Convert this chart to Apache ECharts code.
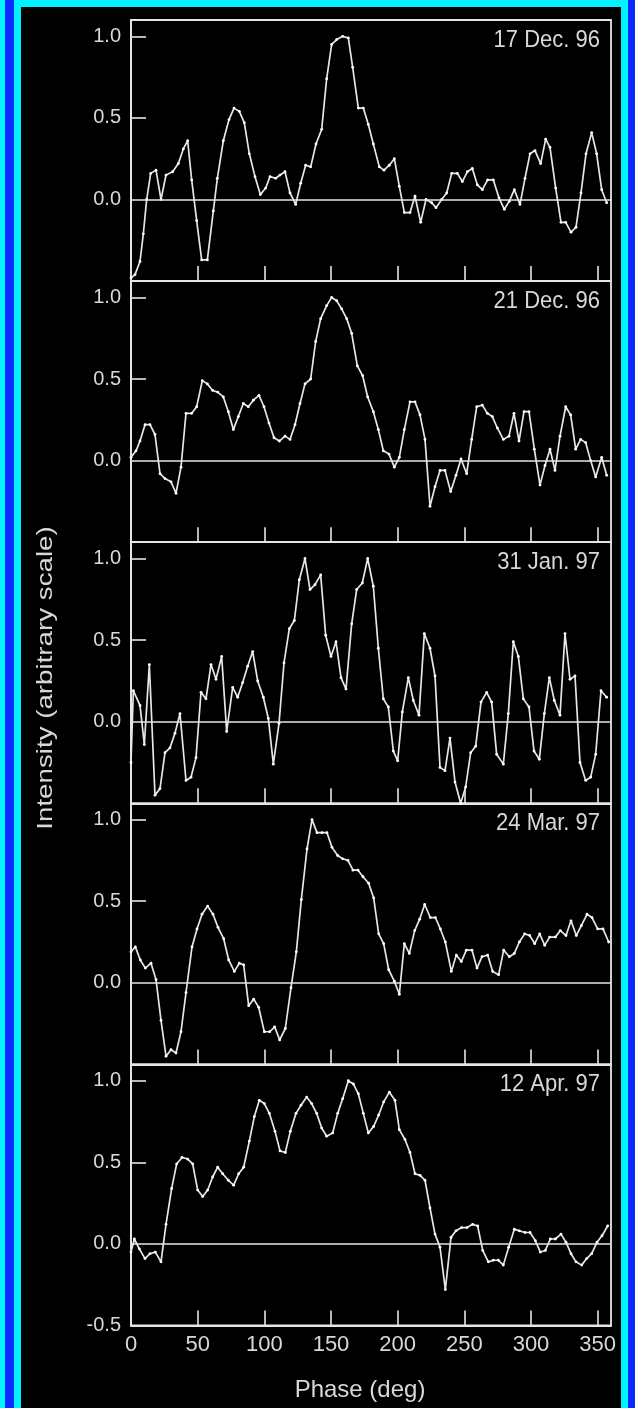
<!DOCTYPE html>
<html><head><meta charset="utf-8">
<script src="https://cdn.jsdelivr.net/npm/echarts@6/dist/echarts.min.js"></script>
<style>
html,body{margin:0;padding:0;width:635px;height:1408px;overflow:hidden;background:#0b2bff;}
#strip{position:absolute;left:0;top:0;width:5px;height:1408px;background:#00f4ff;}
#frame{position:absolute;left:14px;top:0;width:600px;height:1420px;border:7px solid #00f4ff;border-bottom:none;background:#000;}
#chart{position:absolute;left:0;top:0;width:635px;height:1408px;}
</style></head>
<body>
<div id="strip"></div><div id="frame"></div><div id="chart"></div>
<script>
// ---- data ----
const panelDates = ['17 Dec. 96', '21 Dec. 96', '31 Jan. 97', '24 Mar. 97', '12 Apr. 97'];
const xTickLabels = [0, 50, 100, 150, 200, 250, 300, 350];
const yTickLabels = [-0.5, 0.0, 0.5, 1.0];

const phase17Dec96 = [0,3,6.75,9.25,11.75,14.75,18.75,22.5,26.25,31.25,35.5,39.25,42.5,45.5,49.25,53,57.25,61.75,64.75,69.25,73.5,77.25,81.25,85,88.75,93,97,101,104.25,108.5,111.75,115.5,119.25,123.5,127.25,131,134.75,138.75,143,146.75,150.5,154.25,158.75,163,166.25,170.5,174.25,178,181.75,186.25,189.75,193.75,197.5,201.25,205,209.25,213,217.25,221.25,225.5,228.75,233,236.75,240.5,244.75,248.5,252.25,256,259.75,263.5,267.5,271.75,276,280,283.75,287.5,291.75,295.5,299.25,303,307.25,311,314.25,318.5,322.5,326,330,333.75,337.5,341.25,345.5,349.25,353,356.75];
const int17Dec96 = [-0.48,-0.46,-0.38,-0.21,0.0,0.16,0.18,0.0,0.15,0.17,0.22,0.31,0.36,0.12,-0.13,-0.37,-0.37,-0.07,0.13,0.36,0.49,0.56,0.54,0.47,0.28,0.14,0.03,0.07,0.14,0.13,0.15,0.17,0.04,-0.03,0.10,0.21,0.20,0.34,0.43,0.74,0.95,0.98,1.0,0.99,0.81,0.56,0.56,0.46,0.34,0.20,0.18,0.21,0.25,0.08,-0.08,-0.08,0.02,-0.14,0.0,-0.02,-0.05,0.0,0.04,0.16,0.16,0.11,0.17,0.19,0.09,0.06,0.12,0.12,0.01,-0.06,-0.01,0.06,-0.03,0.13,0.28,0.30,0.22,0.37,0.32,0.07,-0.14,-0.14,-0.20,-0.17,0.04,0.28,0.41,0.28,0.06,-0.02];

const phase21Dec96 = [0,3.75,6.75,10.5,14.25,18,21.75,25.5,30,33.75,37.5,41.25,45.5,49.25,53.5,57.25,61.25,65,69.25,73,76.75,80.5,84.25,88,91.75,96,99.75,103.5,107.25,111.25,115.5,119.25,123,126.75,130.5,134.75,138.5,142.25,146.75,150.5,154.25,158,161.75,165.5,169.75,173.75,177.5,181.75,185.5,189.25,193.5,197.5,201.25,205,209.25,213,216.75,220.5,224.25,228,231.75,235.5,239.75,243.75,247.5,251.75,255.5,259.25,263.5,267.25,271,274.75,279.25,283.5,287.25,291,294.75,298.5,302.5,306.75,310.5,314.25,318,321.75,326,329.75,333.5,337.25,341,344.75,348.5,353,356.75];
const int21Dec96 = [0.02,0.06,0.12,0.22,0.22,0.16,-0.08,-0.11,-0.13,-0.20,-0.04,0.29,0.29,0.33,0.49,0.47,0.43,0.42,0.39,0.30,0.19,0.27,0.35,0.33,0.37,0.40,0.33,0.23,0.14,0.12,0.15,0.13,0.22,0.35,0.47,0.50,0.73,0.87,0.95,1.0,0.98,0.93,0.87,0.78,0.58,0.52,0.39,0.30,0.19,0.06,0.04,-0.04,0.02,0.19,0.36,0.36,0.28,0.13,-0.28,-0.16,-0.06,-0.06,-0.19,-0.09,0.01,-0.08,0.13,0.33,0.34,0.29,0.27,0.20,0.13,0.15,0.29,0.12,0.30,0.30,0.07,-0.15,-0.03,0.07,-0.06,0.15,0.33,0.28,0.07,0.13,0.11,0.0,-0.10,0.02,-0.09];

const phase31Jan97 = [0,1.75,6.75,10,13.75,18,21.75,25.5,29.25,33,36.75,41.25,45,48.75,52.5,56.25,60,63.75,68,71.75,76.25,80,83.75,87.5,91.25,95,99.25,103,106.75,111,114.75,118.75,122.5,126.25,130.5,134.25,138,142.25,146,150,153.75,157.5,161.25,165.5,169.25,173.5,177.5,181.75,185.5,189.25,193,196.75,200,203.5,208,211.75,216,220,224.25,228,231.75,235.5,239.25,243,247.25,251,254.75,258.5,262.5,266.75,270.5,274.25,279.25,283,286.75,290.5,294.25,298.5,302.25,306.25,310,313.75,317.5,321.75,325.5,329.25,333,336.75,341,344.75,348.5,352.5,356.75];
const int31Jan97 = [-0.25,0.19,0.10,-0.14,0.35,-0.45,-0.41,-0.19,-0.16,-0.07,0.05,-0.36,-0.34,-0.22,0.18,0.14,0.35,0.26,0.40,-0.06,0.21,0.15,0.24,0.34,0.43,0.25,0.15,0.02,-0.26,-0.01,0.36,0.57,0.62,0.87,1.0,0.81,0.84,0.90,0.53,0.40,0.49,0.27,0.20,0.60,0.81,0.85,1.0,0.83,0.45,0.14,0.09,-0.18,-0.24,0.06,0.27,0.13,0.04,0.54,0.45,0.28,-0.28,-0.30,-0.10,-0.37,-0.50,-0.40,-0.19,-0.15,0.12,0.18,0.12,-0.20,-0.26,0.05,0.49,0.40,0.14,0.09,-0.18,-0.23,0.05,0.27,0.13,0.04,0.54,0.26,0.28,-0.25,-0.36,-0.34,-0.20,0.19,0.15];

const phase24Mar97 = [0,3.25,7,10.75,15,18.75,22.5,26.25,30,33.75,37.5,41.25,45.75,49.5,53.25,57.5,61.5,65.25,69.5,73.25,77.5,81.25,84.5,88.25,92,95.75,100,104,107.75,111.5,115.75,120,124,127.75,132,135.75,139.5,143.25,147,150.75,155,158.75,162.75,166.5,170.25,174,178.25,182,185.75,189.5,193.25,197.5,201.25,205,208.75,212.75,216.5,220.25,224.5,228.25,232,235.75,240.25,244,247.75,251.5,255.75,259.5,263.25,267.5,271.25,275.75,279.5,283.75,287.5,291.25,295.25,299,302.75,306.5,310.25,314,318.25,322,326.25,330,334,337.75,342,345.75,350,354,358.25];
const int24Mar97 = [0.19,0.22,0.14,0.09,0.12,0.02,-0.23,-0.45,-0.41,-0.43,-0.30,-0.06,0.22,0.33,0.42,0.47,0.42,0.34,0.27,0.14,0.07,0.12,0.11,-0.14,-0.10,-0.15,-0.30,-0.30,-0.27,-0.35,-0.28,-0.03,0.19,0.51,0.82,1.0,0.92,0.92,0.92,0.83,0.78,0.76,0.75,0.69,0.69,0.65,0.61,0.52,0.30,0.24,0.08,0.01,-0.07,0.24,0.18,0.32,0.39,0.48,0.40,0.40,0.33,0.25,0.07,0.17,0.13,0.20,0.20,0.09,0.16,0.17,0.07,0.05,0.20,0.16,0.18,0.25,0.30,0.29,0.24,0.30,0.23,0.28,0.28,0.32,0.29,0.38,0.29,0.35,0.42,0.40,0.33,0.33,0.25];

const phase12Apr97 = [0,2.5,6.25,10.5,14.25,18.25,22.5,26.25,30.5,34.25,38.25,42.5,46.25,50,53.75,57.5,61.25,65,68.75,73,77,80.75,84.5,88.75,92.5,96.25,100,103.75,108,111.75,115.75,119.5,123.75,127.5,131.75,135.5,139.25,143,146.75,151.25,155,158.75,163,166.75,170.5,174.25,178,182,185.75,189.5,193.75,198,201.25,205.5,209.25,213,216.75,220.5,224.25,228,231.75,235.75,240,243.75,248,252,256.25,260,263.75,268,271.75,275.5,279.25,283.25,287.5,291.25,295.5,299.25,303.25,307,310.75,314.5,318.25,322.5,326.25,330,333.75,338,341.75,345.5,349.5,353.25,357.5];
const int12Apr97 = [-0.05,0.03,-0.03,-0.09,-0.06,-0.05,-0.11,0.12,0.34,0.49,0.53,0.52,0.49,0.33,0.29,0.33,0.41,0.47,0.43,0.39,0.36,0.43,0.47,0.63,0.78,0.88,0.86,0.80,0.69,0.57,0.56,0.69,0.80,0.85,0.90,0.86,0.80,0.71,0.66,0.68,0.80,0.89,1.0,0.98,0.92,0.80,0.68,0.72,0.79,0.87,0.93,0.88,0.70,0.64,0.56,0.43,0.42,0.39,0.22,0.06,-0.02,-0.28,0.04,0.08,0.10,0.10,0.12,0.11,-0.04,-0.11,-0.10,-0.10,-0.13,-0.02,0.09,0.08,0.07,0.07,0.02,-0.05,-0.04,0.03,0.03,0.06,0.01,-0.06,-0.11,-0.13,-0.09,-0.06,0.01,0.05,0.11];

const phases = [phase17Dec96, phase21Dec96, phase31Jan97, phase24Mar97, phase12Apr97];
const intensities = [int17Dec96, int21Dec96, int31Jan97, int24Mar97, int12Apr97];

// ---- layout / style ----
const FONT = '"Liberation Sans", Arial, Helvetica, sans-serif';
const INK = '#e6e6e6';
const TEXT = '#d8d8d8';
const GRID_LEFT = 131, GRID_RIGHT = 24, GRID_TOP0 = 20, GRID_H = 261.1;

const chart = echarts.init(document.getElementById('chart'), null, {renderer: 'canvas'});
const grids = [], xAxes = [], yAxes = [], series = [], graphics = [];
const n = panelDates.length;
for (let k = 0; k < n; k++) {
  const top = GRID_TOP0 + k * GRID_H;
  const last = k === n - 1;
  grids.push({left: GRID_LEFT, right: GRID_RIGHT, top: top, height: GRID_H,
    show: true, borderColor: INK, borderWidth: 1.8, backgroundColor: 'transparent',
    containLabel: false, outerBoundsMode: 'none'});
  xAxes.push({gridIndex: k, type: 'value', min: 0, max: 360, interval: 50,
    axisLine: {show: true, onZero: false, lineStyle: {color: INK, width: 1.8}},
    axisTick: {show: true, inside: true, length: 15, customValues: xTickLabels.slice(1), lineStyle: {color: INK, width: 1.6}},
    axisLabel: {show: last, customValues: xTickLabels, color: TEXT, fontSize: 22, fontFamily: FONT, margin: 8,
      formatter: v => String(v)},
    splitLine: {show: false},
    name: last ? 'Phase (deg)' : '', nameLocation: 'middle', nameGap: 53,
    nameTextStyle: {color: TEXT, fontSize: 24, fontFamily: FONT, padding: [0, 22, 0, 0]}});
  yAxes.push({gridIndex: k, type: 'value', min: -0.5, max: 1.1, interval: 0.5,
    axisLine: {show: true, onZero: false, lineStyle: {color: INK, width: 1.8}},
    axisTick: {show: true, inside: true, length: 15, customValues: [0.5, 1.0], lineStyle: {color: INK, width: 1.6}},
    axisLabel: {show: true, customValues: last ? yTickLabels : yTickLabels.slice(1),
      formatter: v => v.toFixed(1), color: TEXT, fontSize: 20, fontFamily: FONT, margin: 10},
    splitLine: {show: false}});
  const pts = [];
  const ph = phases[k], iv = intensities[k];
  for (let i = 0; i < Math.min(ph.length, iv.length); i++) pts.push([ph[i], iv[i]]);
  series.push({type: 'line', name: panelDates[k], xAxisIndex: k, yAxisIndex: k, data: pts,
    symbol: 'circle', symbolSize: 2.8, showSymbol: true, showAllSymbol: true,
    lineStyle: {color: INK, width: 1.7}, itemStyle: {color: '#ffffff'},
    emphasis: {disabled: true}, silent: true, animation: false, z: 3,
    markLine: {silent: true, symbol: 'none', animation: false,
      label: {show: false}, lineStyle: {color: INK, width: 1.5, type: 'solid'},
      data: [{yAxis: 0}]}});
  graphics.push({type: 'text', x: 600, y: top + 20, scaleY: 1.12, silent: true,
    style: {text: panelDates[k], fill: TEXT, fontSize: 22, fontFamily: FONT,
      textAlign: 'right', textVerticalAlign: 'middle'}});
}
graphics.push({type: 'text', x: 46, y: 678, rotation: Math.PI / 2, scaleX: 1.26, silent: true,
  style: {text: 'Intensity (arbitrary scale)', fill: TEXT, fontSize: 22, fontFamily: FONT,
    textAlign: 'center', textVerticalAlign: 'middle'}});

chart.setOption({
  backgroundColor: 'transparent',
  animation: false,
  textStyle: {fontFamily: FONT},
  grid: grids, xAxis: xAxes, yAxis: yAxes, series: series, graphic: graphics,
  tooltip: {show: false}
});
</script>
</body></html>
